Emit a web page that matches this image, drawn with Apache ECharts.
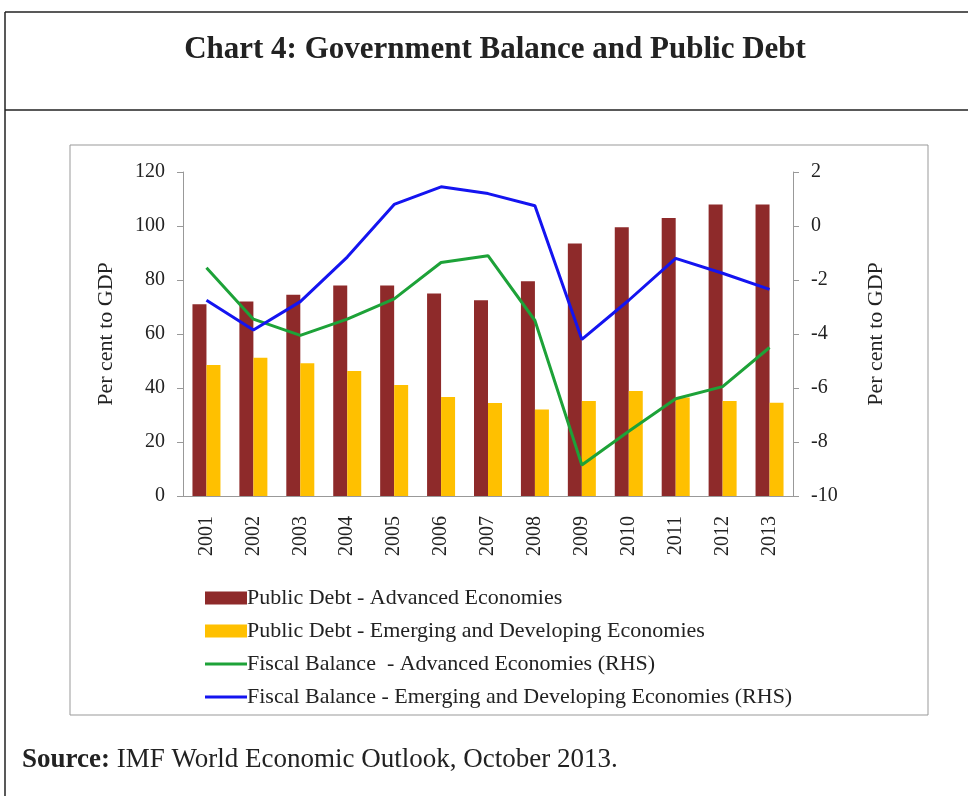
<!DOCTYPE html>
<html>
<head>
<meta charset="utf-8">
<script src="https://cdn.jsdelivr.net/npm/echarts@6/dist/echarts.min.js"></script>
<style>
  html, body { margin: 0; padding: 0; background: #fff; }
  #main { width: 968px; height: 796px; }
</style>
</head>
<body>
<div id="main"></div>
<script>
var years = ["2001", "2002", "2003", "2004", "2005", "2006", "2007", "2008", "2009", "2010", "2011", "2012", "2013"];
var debtAdvanced = [71, 72, 74.5, 78, 78, 75, 72.5, 79.5, 93.5, 99.5, 103, 108, 108];
var debtEmerging = [48.5, 51.2, 49.2, 46.3, 41.1, 36.7, 34.4, 32, 35.2, 38.9, 36.5, 35.2, 34.5];
var balanceAdvanced = [-1.55, -3.45, -4.05, -3.45, -2.7, -1.35, -1.1, -3.5, -8.85, -7.6, -6.4, -5.95, -4.5];
var balanceEmerging = [-2.75, -3.85, -2.8, -1.15, 0.8, 1.45, 1.2, 0.75, -4.2, -2.75, -1.2, -1.75, -2.35];

var serif = "Liberation Serif";
var lineIcon = "path://M0,0H40V3H0Z";
var myChart = echarts.init(document.getElementById("main"));

var option = {
    animation: false,
    backgroundColor: "#fff",
    graphic: [
        // outer frame: top line, left line, divider below the title
        { type: "line", shape: { x1: 5, y1: 12, x2: 968, y2: 12 }, style: { stroke: "#222", lineWidth: 1.5 } },
        { type: "line", shape: { x1: 5, y1: 12, x2: 5, y2: 796 }, style: { stroke: "#222", lineWidth: 1.5 } },
        { type: "line", shape: { x1: 5, y1: 110, x2: 968, y2: 110 }, style: { stroke: "#222", lineWidth: 1.5 } },
        // inner chart box
        { type: "rect", shape: { x: 70, y: 145, width: 858, height: 570 }, style: { fill: null, stroke: "#999", lineWidth: 1 } },
        {
            type: "text", x: 495, y: 50,
            style: {
                text: "Chart 4: Government Balance and Public Debt",
                font: "bold 31px 'Liberation Serif'", fill: "#222",
                textAlign: "center", textVerticalAlign: "middle"
            }
        },
        {
            type: "text", x: 22, y: 760,
            style: {
                text: "{b|Source:} IMF World Economic Outlook, October 2013.",
                font: "27px 'Liberation Serif'", fill: "#222", textVerticalAlign: "middle",
                rich: { b: { fontWeight: "bold", fontSize: 27, fontFamily: serif, fill: "#222" } }
            }
        }
    ],
    legend: {
        orient: "vertical",
        left: 200,
        top: 582,
        itemWidth: 42,
        itemHeight: 13,
        itemGap: 11,
        textStyle: { fontFamily: serif, fontSize: 22, color: "#222", padding: [0, 0, 0, -5] },
        data: [
            { name: "Public Debt - Advanced Economies", icon: "rect" },
            { name: "Public Debt - Emerging and Developing Economies", icon: "rect" },
            { name: "Fiscal Balance  - Advanced Economies (RHS)", icon: lineIcon },
            { name: "Fiscal Balance - Emerging and Developing Economies (RHS)", icon: lineIcon }
        ]
    },
    grid: { left: 183, right: 175, top: 172, bottom: 300 },
    xAxis: {
        type: "category",
        data: years,
        axisLine: { lineStyle: { color: "#999" } },
        axisTick: { length: 5, lineStyle: { color: "#999" } },
        axisLabel: { rotate: 90, fontFamily: serif, fontSize: 20, color: "#222", margin: 20 }
    },
    yAxis: [
        {
            type: "value", min: 0, max: 120, interval: 20,
            name: "Per cent to GDP", nameLocation: "middle", nameGap: 66,
            nameTextStyle: { fontFamily: serif, fontSize: 22, color: "#222" },
            axisLine: { show: true, lineStyle: { color: "#999" } },
            axisTick: { show: true, length: 6, lineStyle: { color: "#999" } },
            splitLine: { show: false },
            axisLabel: { fontFamily: serif, fontSize: 20, color: "#222", margin: 18 }
        },
        {
            type: "value", min: -10, max: 2, interval: 2,
            name: "Per cent to GDP", nameLocation: "middle", nameGap: 72, nameRotate: 90,
            nameTextStyle: { fontFamily: serif, fontSize: 22, color: "#222" },
            axisLine: { show: true, lineStyle: { color: "#999" } },
            axisTick: { show: true, length: 6, lineStyle: { color: "#999" } },
            splitLine: { show: false },
            axisLabel: { fontFamily: serif, fontSize: 20, color: "#222", margin: 18 }
        }
    ],
    series: [
        {
            name: "Public Debt - Advanced Economies",
            type: "bar", data: debtAdvanced, barWidth: 14, barGap: "0%",
            itemStyle: { color: "#8E2A2A" }
        },
        {
            name: "Public Debt - Emerging and Developing Economies",
            type: "bar", data: debtEmerging, barWidth: 14,
            itemStyle: { color: "#FFC000" }
        },
        {
            name: "Fiscal Balance  - Advanced Economies (RHS)",
            type: "line", yAxisIndex: 1, data: balanceAdvanced, symbol: "none",
            lineStyle: { color: "#1DA238", width: 3 }, itemStyle: { color: "#1DA238" }
        },
        {
            name: "Fiscal Balance - Emerging and Developing Economies (RHS)",
            type: "line", yAxisIndex: 1, data: balanceEmerging, symbol: "none",
            lineStyle: { color: "#1414F0", width: 3 }, itemStyle: { color: "#1414F0" }
        }
    ]
};

myChart.setOption(option);
</script>
</body>
</html>
